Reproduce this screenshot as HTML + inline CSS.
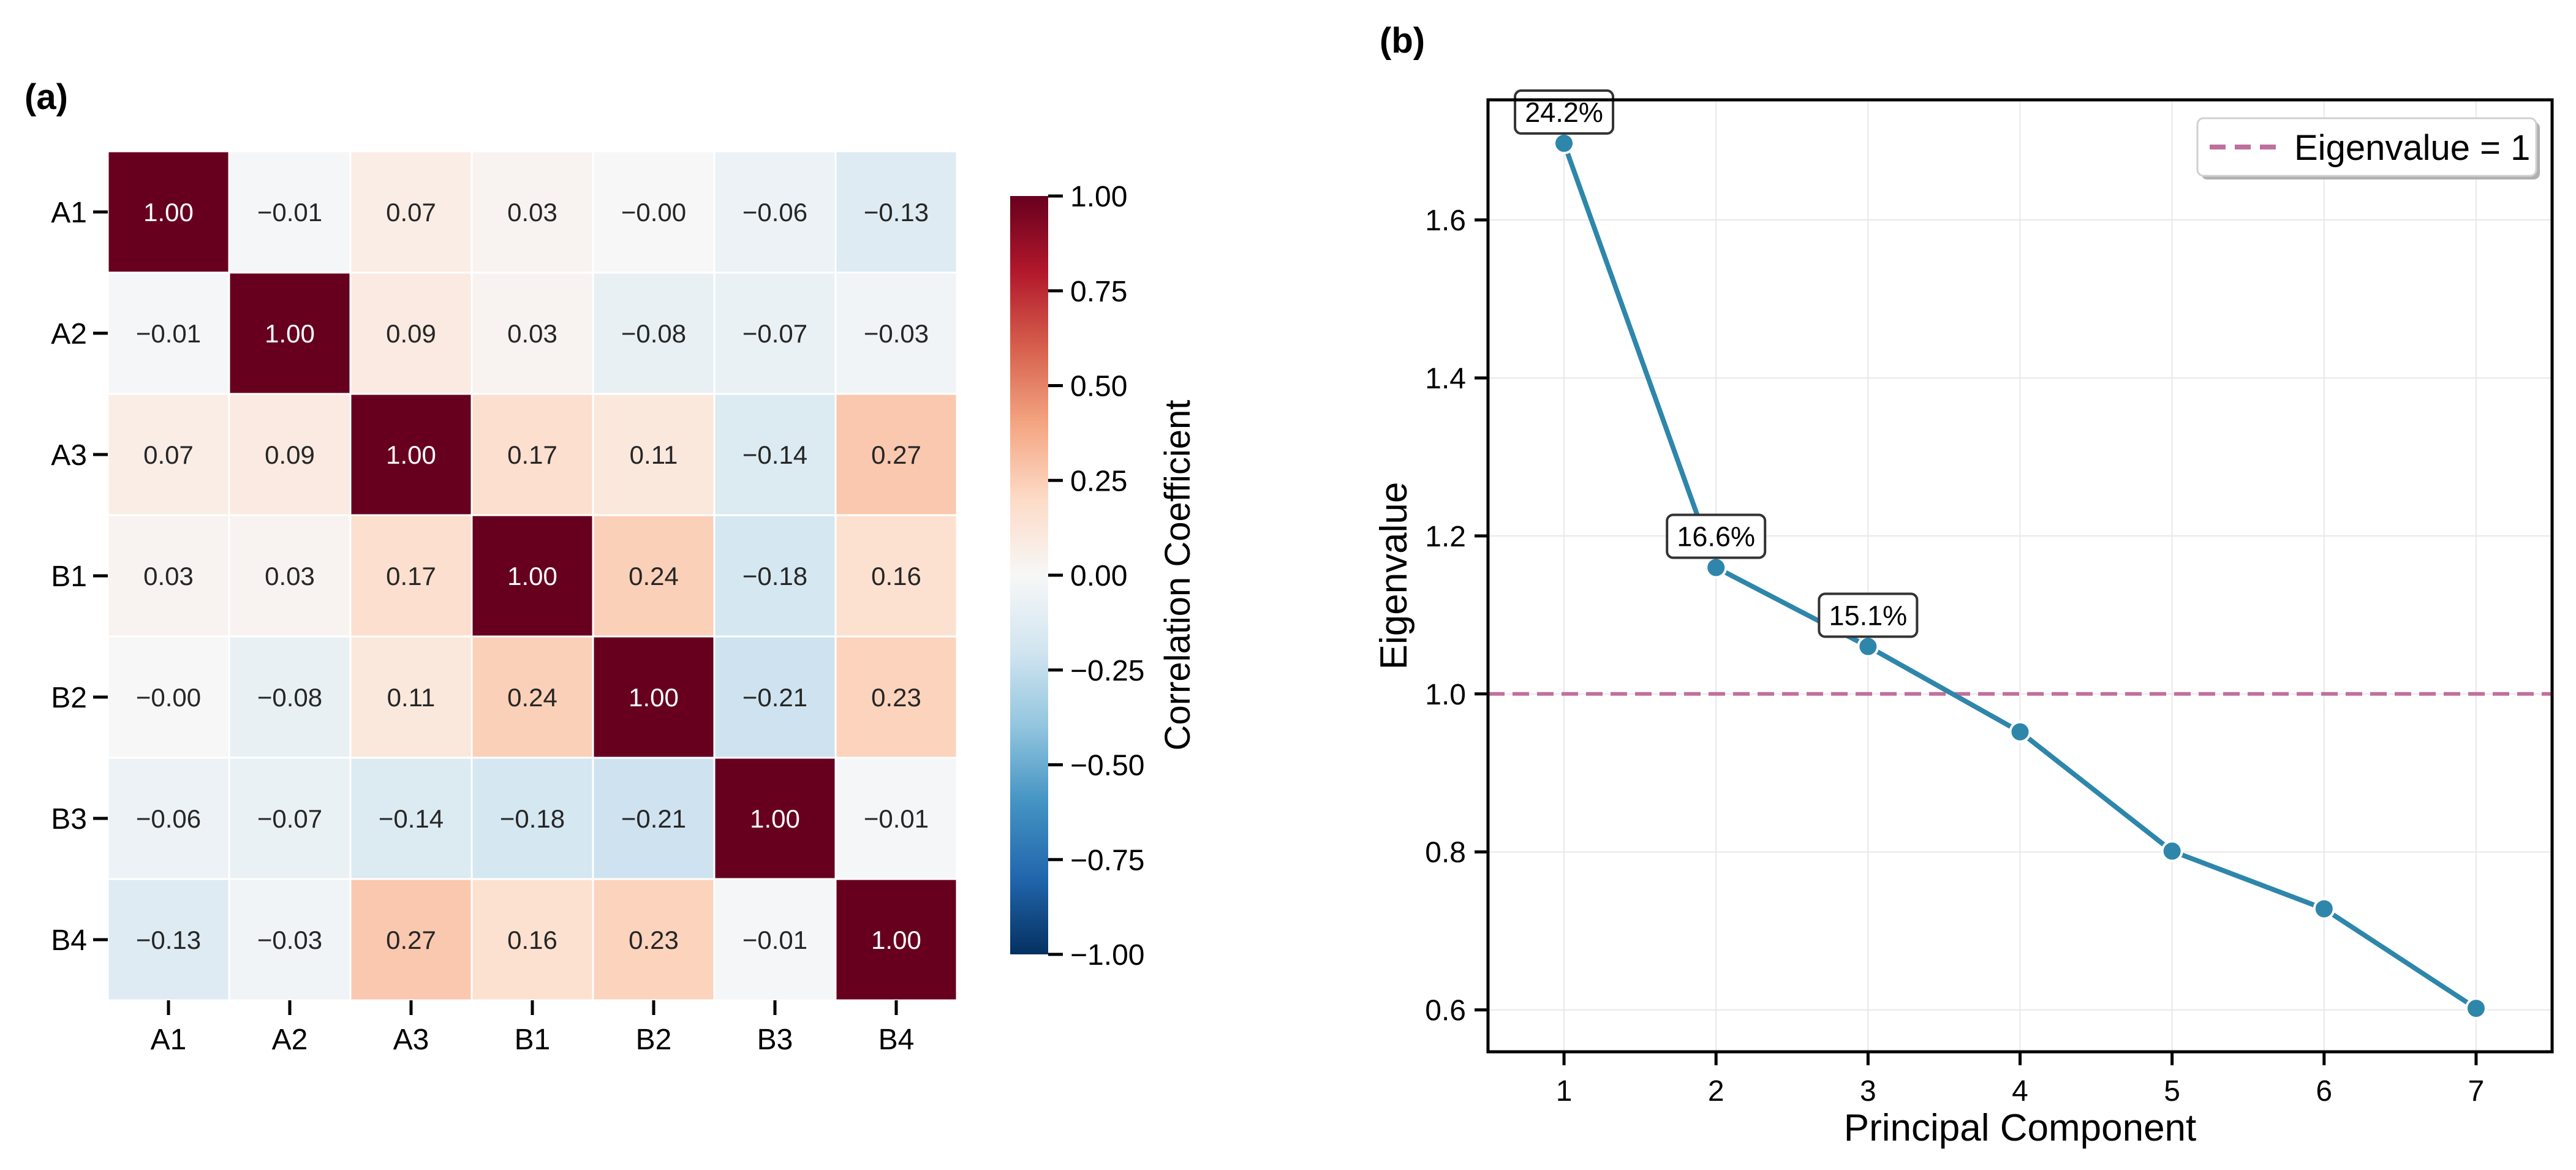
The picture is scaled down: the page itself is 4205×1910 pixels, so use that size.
<!DOCTYPE html>
<html><head><meta charset="utf-8"><style>
html,body{margin:0;padding:0;background:#fff;}
svg{display:block;font-family:"Liberation Sans",Arial,sans-serif;}
</style></head><body>
<svg id="fig" width="4205" height="1910" viewBox="0 0 4205 1910" xmlns="http://www.w3.org/2000/svg">
<rect width="4205" height="1910" fill="#fff"/>
<text x="40" y="178" font-size="58" font-weight="bold">(a)</text>
<text x="2252" y="86" font-size="58" font-weight="bold">(b)</text>
<g id="heat"></g>
<g id="cbar"></g>
<g id="scree"></g>
</svg>
<script>
const varNames = ["A1","A2","A3","B1","B2","B3","B4"];
const corrRow0 = [1.00,-0.01,0.07,0.03,-0.00,-0.06,-0.13];
const corrRow1 = [-0.01,1.00,0.09,0.03,-0.08,-0.07,-0.03];
const corrRow2 = [0.07,0.09,1.00,0.17,0.11,-0.14,0.27];
const corrRow3 = [0.03,0.03,0.17,1.00,0.24,-0.18,0.16];
const corrRow4 = [-0.00,-0.08,0.11,0.24,1.00,-0.21,0.23];
const corrRow5 = [-0.06,-0.07,-0.14,-0.18,-0.21,1.00,-0.01];
const corrRow6 = [-0.13,-0.03,0.27,0.16,0.23,-0.01,1.00];
const corr = [corrRow0,corrRow1,corrRow2,corrRow3,corrRow4,corrRow5,corrRow6];
const cbarTicks = [1.00,0.75,0.50,0.25,0.00,-0.25,-0.50,-0.75,-1.00];
const components = [1,2,3,4,5,6,7];
const eigenvalues = [1.697,1.160,1.060,0.952,0.801,0.728,0.602];
const varExplained = ["24.2%","16.6%","15.1%"];
const yTicks = [0.6,0.8,1.0,1.2,1.4,1.6];
const threshold = 1.0;

const NS="http://www.w3.org/2000/svg";
function mk(tag,attrs,parent,text){const e=document.createElementNS(NS,tag);for(const k in attrs)e.setAttribute(k,attrs[k]);if(text!==undefined)e.textContent=text;parent.appendChild(e);return e;}
const stops=["#053061","#2166ac","#4393c3","#92c5de","#d1e5f0","#f7f7f7","#fddbc7","#f4a582","#d6604d","#b2182b","#67001f"];
function hex(h){return [parseInt(h.slice(1,3),16),parseInt(h.slice(3,5),16),parseInt(h.slice(5,7),16)];}
function cmap(v){let t=(Math.max(-1,Math.min(1,v))+1)/2*10;let i=Math.min(9,Math.floor(t));let f=t-i;const a=hex(stops[i]),b=hex(stops[i+1]);return "rgb("+a.map((x,j)=>Math.round(x+(b[j]-x)*f)).join(",")+")";}
function fmt(v){const s=Math.abs(v).toFixed(2);return (v<0||Object.is(v,-0)?"\u2212":"")+s;}

// Heatmap
const heat=document.getElementById('heat');
const hx0=176,hy0=247,cell=198;
const hxs=i=>hx0+i*cell, hys=i=>hy0+i*cell;
corr.forEach((row,r)=>row.forEach((v,c)=>{
  const rc=mk('rect',{x:hxs(c),y:hys(r),width:cell,height:cell,fill:cmap(v),stroke:'#fff','stroke-width':3},heat);
  
  
  const neg=(v<0)||(Object.is(v,-0))||(r===4&&c===0)||(r===0&&c===4);
  const t=mk('text',{x:hxs(c)+cell/2,y:hys(r)+cell/2+15,'font-size':42,'text-anchor':'middle',fill:Math.abs(v)>0.5?'#fff':'#262626'},heat,(neg&&v===0?"\u2212":"")+(v===0?"0.00":fmt(v)));
  
  
}));
varNames.forEach((n,i)=>{
  const yc=hys(i)+cell/2;
  mk('line',{x1:hx0-24,x2:hx0,y1:yc,y2:yc,stroke:'#000','stroke-width':5},heat);
  const t=mk('text',{x:hx0-34,y:yc+17,'font-size':48,'text-anchor':'end'},heat,n);
  
  
  const xc=hxs(i)+cell/2, yb=hy0+7*cell;
  mk('line',{x1:xc,x2:xc,y1:yb,y2:yb+24,stroke:'#000','stroke-width':5},heat);
  const u=mk('text',{x:xc,y:yb+80,'font-size':48,'text-anchor':'middle'},heat,n);
  
  
});

// Colorbar
const cb=document.getElementById('cbar');
const cbx=1649,cbw=62,cbTop=320,cbBot=1558;
const cys=v=>cbTop+(1-v)/2*(cbBot-cbTop);
const defs=mk('defs',{},cb);
const lg=mk('linearGradient',{id:'cbg',x1:0,y1:1,x2:0,y2:0},defs);
stops.forEach((s,i)=>mk('stop',{offset:(i/10),'stop-color':s},lg));
mk('rect',{x:cbx,y:cbTop,width:cbw,height:cbBot-cbTop,fill:'url(#cbg)'},cb);
cbarTicks.forEach(v=>{
  const y=cys(v);
  mk('line',{x1:cbx+cbw,x2:cbx+cbw+24,y1:y,y2:y,stroke:'#000','stroke-width':5},cb);
  const t=mk('text',{x:1747,y:y+17,'font-size':48},cb,fmt(v));
  
  
});
const cl=mk('text',{x:0,y:0,'font-size':58,'text-anchor':'middle',transform:'translate(1942,939) rotate(-90)'},cb,'Correlation Coefficient');



// Scree plot
const sc=document.getElementById('scree');
const L=2429,R=4166,T=163,B=1717;
const xmin=0.5,xmax=7.5,ymin=0.547,ymax=1.752;
const xs=v=>L+(v-xmin)/(xmax-xmin)*(R-L);
const ys=v=>B-(v-ymin)/(ymax-ymin)*(B-T);
components.forEach(c=>mk('line',{x1:xs(c),x2:xs(c),y1:T,y2:B,stroke:'#e8e8e8','stroke-width':2},sc));
yTicks.forEach(v=>mk('line',{x1:L,x2:R,y1:ys(v),y2:ys(v),stroke:'#e8e8e8','stroke-width':2},sc));
const thr=mk('line',{x1:L,x2:R,y1:ys(threshold),y2:ys(threshold),stroke:'#c0709c','stroke-width':6,'stroke-dasharray':'27,13'},sc);


const pts=components.map((c,i)=>xs(c)+','+ys(eigenvalues[i])).join(' ');
const pl=mk('polyline',{points:pts,fill:'none',stroke:'#2e86ab','stroke-width':8,'stroke-linejoin':'round'},sc);


components.forEach((c,i)=>{
  const p=mk('circle',{cx:xs(c),cy:ys(eigenvalues[i]),r:16,fill:'#2e86ab',stroke:'#fff','stroke-width':4},sc);
  
  
});
varExplained.forEach((s,i)=>{
  const cx=xs(components[i]),cy=ys(eigenvalues[i])-51;
  const b=mk('rect',{x:cx-80,y:cy-35,width:160,height:70,rx:10,fill:'#fff',stroke:'#333','stroke-width':4},sc);
  
  
  const t=mk('text',{x:cx,y:cy+16,'font-size':45,'text-anchor':'middle'},sc,s);
  
  
});
mk('rect',{x:L,y:T,width:R-L,height:B-T,fill:'none',stroke:'#000','stroke-width':5},sc);
yTicks.forEach(v=>{
  mk('line',{x1:L-22,x2:L,y1:ys(v),y2:ys(v),stroke:'#000','stroke-width':5},sc);
  const t=mk('text',{x:L-36,y:ys(v)+17,'font-size':48,'text-anchor':'end'},sc,v.toFixed(1));
  
  
});
components.forEach(c=>{
  mk('line',{x1:xs(c),x2:xs(c),y1:B,y2:B+22,stroke:'#000','stroke-width':5},sc);
  const t=mk('text',{x:xs(c),y:B+80,'font-size':48,'text-anchor':'middle'},sc,String(c));
  
  
});
const xl=mk('text',{x:(L+R)/2,y:1862,'font-size':62,'text-anchor':'middle'},sc,'Principal Component');


const yl=mk('text',{x:0,y:0,'font-size':62,'text-anchor':'middle',transform:'translate(2296,940) rotate(-90)'},sc,'Eigenvalue');


// legend
const lgd=mk('g',{},sc);


mk('rect',{x:3593,y:199,width:553,height:94,rx:10,fill:'#b0b0b0'},lgd);
mk('rect',{x:3587,y:193,width:553,height:94,rx:10,fill:'#fff',stroke:'#d0d0d0','stroke-width':3},lgd);
mk('line',{x1:3607,x2:3716,y1:240,y2:240,stroke:'#c0709c','stroke-width':8,'stroke-dasharray':'26,15'},lgd);
const lt=mk('text',{x:3745,y:261,'font-size':58},lgd,'Eigenvalue = 1');


</script>
</body></html>
